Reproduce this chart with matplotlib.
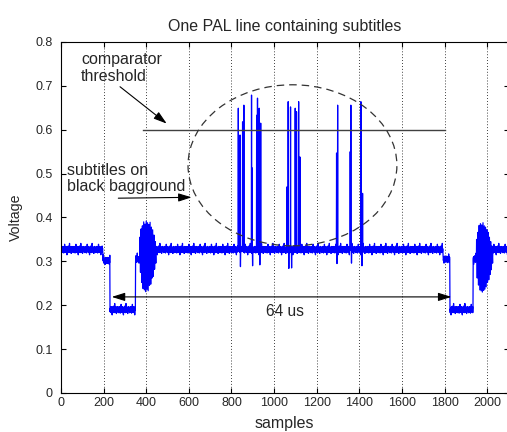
import numpy as np
import matplotlib
matplotlib.use("Agg")
import matplotlib.pyplot as plt
from matplotlib.patches import Ellipse

plt.rcParams['font.family'] = ['Liberation Sans', 'DejaVu Sans']

# ---------------- data ----------------
n_samples = 2100
# piecewise levels of the PAL line (start sample, level in V)
seg_start = [0, 197, 230, 350, 446, 1793, 1825, 1934, 2022]
seg_level = [0.327, 0.302, 0.190, 0.305, 0.327, 0.305, 0.190, 0.305, 0.327]

# hand-read noise ripple (mV) seen on the flat parts
noise_mv = [3, -5, 6, -2, -7, 4, 1, -4, 7, -6, 2, 5, -3, -8, 6, 0, -5, 12, -4, 3,
            -6, 5, -1, 7, -7, 2, -3, 4, -12, 6, -2, 5, -6, 1, 8, -4, 3, -7, 4, -1,
            14, -5, 2, -6, 6, -3, 0, 5, -9, 3, -4, 7, -2]

# colour bursts: sample, upper and lower excursion
burst1_x = [370, 376, 382, 388, 394, 400, 406, 412, 418, 424, 430, 436, 442]
burst1_hi = [0.355, 0.374, 0.381, 0.390, 0.385, 0.392, 0.388, 0.384, 0.389, 0.378, 0.372, 0.360, 0.345]
burst1_lo = [0.275, 0.252, 0.238, 0.235, 0.231, 0.236, 0.233, 0.245, 0.248, 0.262, 0.266, 0.282, 0.296]
burst2_x = [1950, 1956, 1962, 1968, 1974, 1980, 1986, 1992, 1998, 2004, 2010, 2016, 2022]
burst2_hi = [0.350, 0.366, 0.382, 0.386, 0.383, 0.388, 0.381, 0.378, 0.372, 0.366, 0.355, 0.345, 0.335]
burst2_lo = [0.262, 0.246, 0.235, 0.233, 0.230, 0.234, 0.237, 0.242, 0.252, 0.258, 0.270, 0.281, 0.296]

# subtitle pulses (sample, peak voltage)
spike_x = [832, 840, 852, 858, 894, 897, 918, 922, 930, 937, 1061, 1066, 1077,
           1099, 1105, 1115, 1121, 1293, 1298, 1357, 1360, 1407, 1415]
spike_v = [0.649, 0.588, 0.618, 0.656, 0.679, 0.513, 0.633, 0.672, 0.649, 0.615, 0.470,
           0.664, 0.652, 0.649, 0.641, 0.664, 0.538, 0.547, 0.656, 0.550, 0.656, 0.664, 0.455]
# undershoots next to the pulses
dip_x = [842, 899, 933, 1069, 1082, 1295, 1363, 1412]
dip_v = [0.288, 0.290, 0.292, 0.284, 0.285, 0.295, 0.296, 0.290]

xticks = [0, 200, 400, 600, 800, 1000, 1200, 1400, 1600, 1800, 2000]
yticks = [0, 0.1, 0.2, 0.3, 0.4, 0.5, 0.6, 0.7, 0.8]
ytick_labels = ['0', '0.1', '0.2', '0.3', '0.4', '0.5', '0.6', '0.7', '0.8']

# ---------------- build the trace ----------------
x = np.arange(n_samples)
y = np.empty(n_samples)
ends = seg_start[1:] + [n_samples]
for s, e, lv in zip(seg_start, ends, seg_level):
    y[s:e] = lv
y = y + np.resize(np.array(noise_mv) / 1000.0, n_samples)
for sx, sv in zip(spike_x, spike_v):
    y[sx] = sv
for dx, dv in zip(dip_x, dip_v):
    y[dx] = dv


def zig(bx, hi, lo):
    xs, ys = [], []
    for a, h, l in zip(bx, hi, lo):
        xs += [a, a + 3]
        ys += [h, l]
    return xs, ys

b1x, b1y = zig(burst1_x, burst1_hi, burst1_lo)
b2x, b2y = zig(burst2_x, burst2_hi, burst2_lo)

px = list(x[:burst1_x[0]]) + b1x + list(x[burst1_x[-1] + 4:burst2_x[0]]) + b2x + list(x[burst2_x[-1] + 4:])
py = list(y[:burst1_x[0]]) + b1y + list(y[burst1_x[-1] + 4:burst2_x[0]]) + b2y + list(y[burst2_x[-1] + 4:])

# ---------------- figure ----------------
fig = plt.figure(figsize=(5.07, 4.32), dpi=100)
ax = fig.add_axes([0.1203, 0.0903, 0.8828, 0.8125])

txt = '#262626'
for xt in xticks[1:]:
    ax.axvline(xt, color='k', lw=0.6, ls=(0, (1, 2.5)), zorder=0)

ax.plot(px, py, color='#0000ff', lw=0.9, zorder=2)

# comparator threshold
ax.plot([385, 1800], [0.6, 0.6], color='#404040', lw=1.0, zorder=3)

# dashed ellipse round the subtitles
ax.add_patch(Ellipse((1086, 0.519), 980, 0.367, fill=False, ec='#333333',
                     lw=0.9, ls=(0, (6, 4)), zorder=3))

ax.text(95, 0.741, 'comparator\nthreshold', ha='left', va='center',
        fontsize=11.5, color=txt, linespacing=1.15)
ax.annotate('', xy=(496, 0.614), xytext=(277, 0.698),
            arrowprops=dict(arrowstyle='-|>,head_length=0.8,head_width=0.25',
                            color='k', lw=0.8, shrinkA=0, shrinkB=0))

ax.text(27, 0.489, 'subtitles on\nblack bagground', ha='left', va='center',
        fontsize=11.5, color=txt, linespacing=1.15)
ax.annotate('', xy=(613, 0.446), xytext=(269, 0.444),
            arrowprops=dict(arrowstyle='-|>,head_length=0.8,head_width=0.25',
                            color='k', lw=0.8, shrinkA=0, shrinkB=0))

ax.annotate('', xy=(238, 0.219), xytext=(1832, 0.219),
            arrowprops=dict(arrowstyle='<|-|>,head_length=0.8,head_width=0.25',
                            color='k', lw=0.8, shrinkA=0, shrinkB=0))
ax.text(1051, 0.185, '64 us', ha='center', va='center', fontsize=11.2, color=txt)

ax.set_xlim(0, 2100)
ax.set_ylim(0, 0.8)
ax.set_xticks(xticks)
ax.set_xticklabels([str(v) for v in xticks])
ax.set_yticks(yticks)
ax.set_yticklabels(ytick_labels)
ax.tick_params(direction='in', top=True, right=True, length=3.5, width=0.8,
               labelsize=9, labelcolor=txt)
ax.tick_params(axis='x', pad=3)
ax.tick_params(axis='y', pad=6)
for sp in ax.spines.values():
    sp.set_linewidth(0.8)
    sp.set_color('k')

ax.set_title('One PAL line containing subtitles', fontsize=11.5, color=txt, pad=8)
ax.set_xlabel('samples', fontsize=11.5, color=txt, labelpad=5)
ax.set_ylabel('Voltage', fontsize=10.2, color=txt, labelpad=9)

fig.savefig('out.png', dpi=100)
